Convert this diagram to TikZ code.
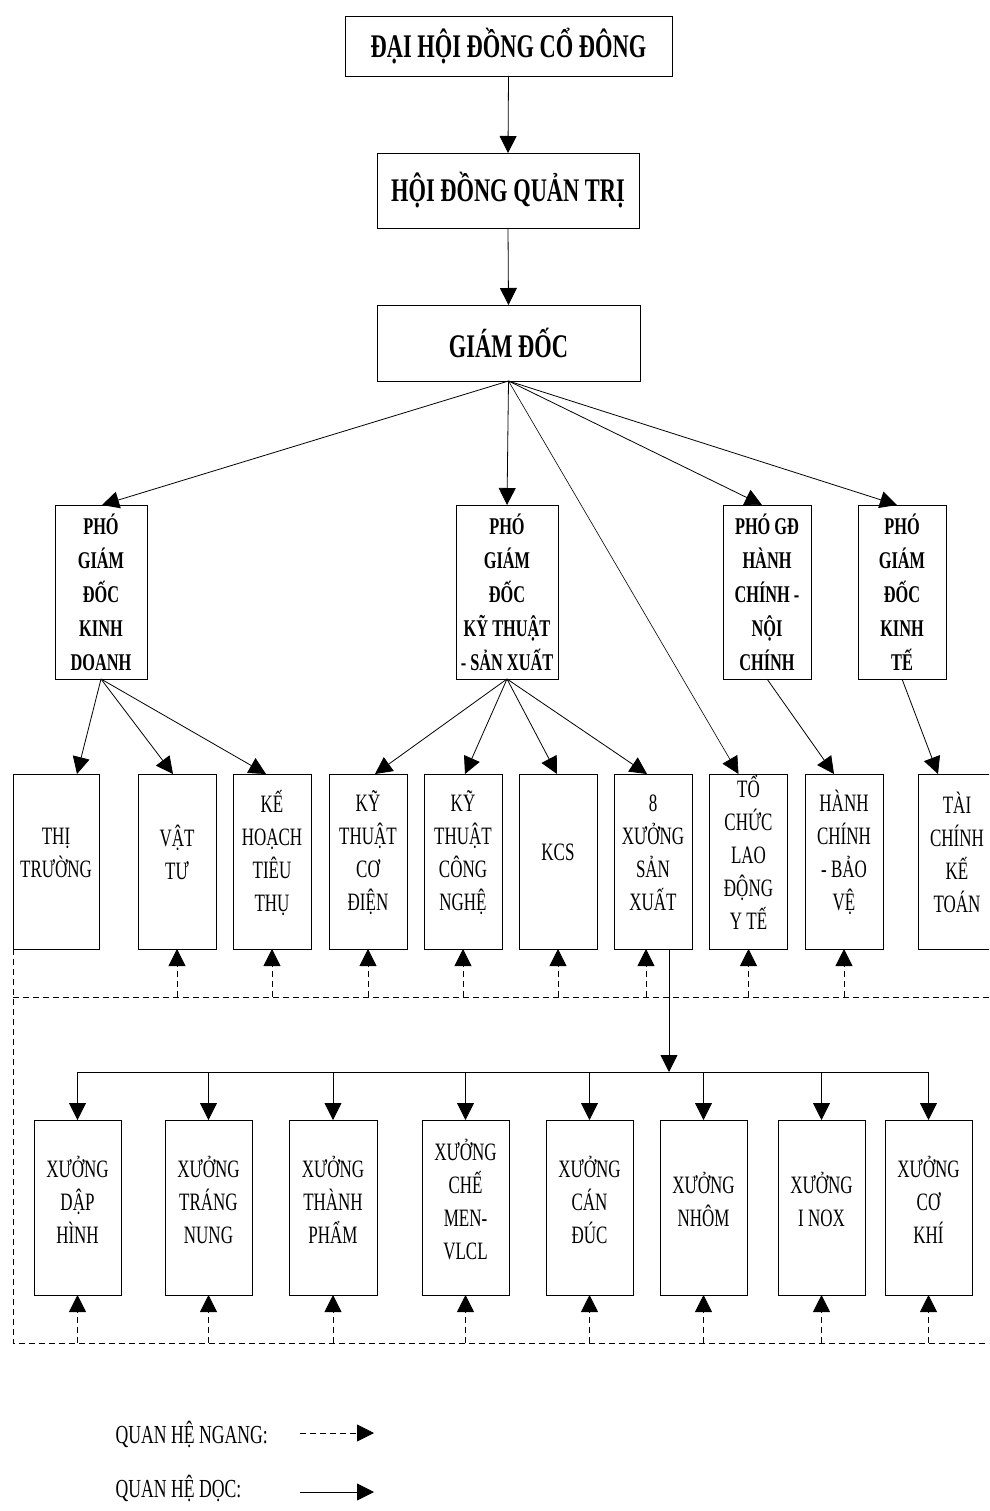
\documentclass[tikz,border=0pt]{standalone}
\usepackage{fontspec}
\setmainfont{Liberation Serif}[FakeStretch=0.68]
\usetikzlibrary{arrows.meta}
\begin{document}
\begin{tikzpicture}[x=1pt,y=-1pt,
  box/.style={draw, line width=0.9pt, inner sep=0pt, outer sep=0pt},
  head/.style={font=\bfseries\fontsize{33}{38}\selectfont},
  dep/.style={align=center, font=\bfseries\fontsize{24}{34}\selectfont},
  unit/.style={align=center, font=\fontsize{25}{33}\selectfont},
  legend/.style={anchor=base west, font=\fontsize{26}{30}\selectfont},
  tipend/.style={-{Triangle[length=17pt,width=17pt]}},
  link/.style={line width=0.8pt, tipend},
  thin/.style={line width=0.6pt, tipend},
  hline/.style={line width=0.8pt, dash pattern=on 6pt off 4pt},
  uplink/.style={hline, tipend},
  u4/.style={box, minimum width=78pt, minimum height=175pt},
  u5/.style={box, minimum width=87pt, minimum height=175pt},
  d3/.style={box, dep, minimum height=174pt},
]
\path[use as bounding box] (0,0) rectangle (989,1511);
\clip (0,0) rectangle (989,1511);

% top of the hierarchy
\node[box, head, minimum width=327pt, minimum height=60pt] (dh) at (508.5,46) {ĐẠI HỘI ĐỒNG CỔ ĐÔNG};
\node[box, head, minimum width=262pt, minimum height=75pt] (hd) at (508,190.5) {HỘI ĐỒNG QUẢN TRỊ};
\node[box, head, minimum width=263pt, minimum height=76pt] (gd) at (508.5,343) {GIÁM ĐỐC};

% deputy directors
\node[d3, minimum width=92pt] (pkd) at (101,592) {PHÓ\\GIÁM\\ĐỐC\\KINH\\DOANH};
\node[d3, minimum width=102pt] (pkt) at (507,592) {PHÓ\\GIÁM\\ĐỐC\\KỸ THUẬT\\- SẢN XUẤT};
\node[d3, minimum width=88pt] (phc) at (767,592) {PHÓ GĐ\\HÀNH\\CHÍNH -\\NỘI\\CHÍNH};
\node[d3, minimum width=88pt] (pkte) at (902,592) {PHÓ\\GIÁM\\ĐỐC\\KINH\\TẾ};

% departments
\node[u4, minimum width=86pt] (tt) at (56,861.5) {};
\node[u4] (vt) at (177,861.5) {};
\node[u4] (kh) at (272,861.5) {};
\node[u4] (kd) at (368,861.5) {};
\node[u4] (kc) at (463,861.5) {};
\node[u4] (kcs) at (558,861.5) {};
\node[u4] (xsx) at (653,861.5) {};
\node[u4] (tc) at (748.5,861.5) {};
\node[u4] (hc) at (844,861.5) {};
\node[u4] (tck) at (957,861.5) {};

\node[unit] at ([yshift=9pt]tt.center) {THỊ\\TRƯỜNG};
\node[unit] at ([yshift=9pt]vt.center) {VẬT\\TƯ};
\node[unit] at ([yshift=9pt]kh.center) {KẾ\\HOẠCH\\TIÊU\\THỤ};
\node[unit] at ([yshift=9pt]kd.center) {KỸ\\THUẬT\\CƠ\\ĐIỆN};
\node[unit] at ([yshift=9pt]kc.center) {KỸ\\THUẬT\\CÔNG\\NGHỆ};
\node[unit] at ([yshift=9pt]kcs.center) {KCS};
\node[unit] at ([yshift=9pt]xsx.center) {8\\XƯỞNG\\SẢN\\XUẤT};
\node[unit] at ([yshift=9pt]tc.center) {TỔ\\CHỨC\\LAO\\ĐỘNG\\Y TẾ};
\node[unit] at ([yshift=9pt]hc.center) {HÀNH\\CHÍNH\\- BẢO\\VỆ};
\node[unit] at ([yshift=9pt]tck.center) {TÀI\\CHÍNH\\KẾ\\TOÁN};

% workshops
\node[u5] (x1) at (77.5,1207.5) {};
\node[u5] (x2) at (208.5,1207.5) {};
\node[u5, minimum width=88pt] (x3) at (333,1207.5) {};
\node[u5] (x4) at (465.5,1207.5) {};
\node[u5] (x5) at (589.5,1207.5) {};
\node[u5] (x6) at (703.5,1207.5) {};
\node[u5] (x7) at (821.5,1207.5) {};
\node[u5] (x8) at (928.5,1207.5) {};

\node[unit] at ([yshift=8pt]x1.center) {XƯỞNG\\DẬP\\HÌNH};
\node[unit] at ([yshift=8pt]x2.center) {XƯỞNG\\TRÁNG\\NUNG};
\node[unit] at ([yshift=8pt]x3.center) {XƯỞNG\\THÀNH\\PHẨM};
\node[unit] at ([yshift=8pt]x4.center) {XƯỞNG\\CHẾ\\MEN-\\VLCL};
\node[unit] at ([yshift=8pt]x5.center) {XƯỞNG\\CÁN\\ĐÚC};
\node[unit] at ([yshift=8pt]x6.center) {XƯỞNG\\NHÔM};
\node[unit] at ([yshift=8pt]x7.center) {XƯỞNG\\I NOX};
\node[unit] at ([yshift=8pt]x8.center) {XƯỞNG\\CƠ\\KHÍ};

% vertical chain of command
\draw[link] (dh.south) -- (hd.north);
\draw[link] (hd.south) -- (gd.north);
\draw[link] (gd.south) -- ([xshift=1pt]pkd.north);
\draw[link] (gd.south) -- (pkt.north);
\draw[link] (gd.south) -- ([xshift=-5pt]phc.north);
\draw[link] (gd.south) -- ([xshift=-5pt]pkte.north);
\draw[thin] (gd.south) -- ([xshift=-10pt]tc.north);

\draw[link] (pkd.south) -- ([xshift=21pt]tt.north);
\draw[link] (pkd.south) -- ([xshift=-4pt]vt.north);
\draw[link] (pkd.south) -- ([xshift=-6pt]kh.north);
\draw[link] (pkt.south) -- ([xshift=7pt]kd.north);
\draw[link] (pkt.south) -- ([xshift=2pt]kc.north);
\draw[link] (pkt.south) -- ([xshift=-1pt]kcs.north);
\draw[link] (pkt.south) -- ([xshift=-6pt]xsx.north);
\draw[link] (phc.south) -- ([xshift=-10pt]hc.north);
\draw[link] (pkte.south) -- ([xshift=-19pt]tck.north);

% production workshops bus
\coordinate (bus) at (669,1072);
\draw[link] ([xshift=16pt]xsx.south) -- (bus);
\draw[line width=0.8pt] (x1.north |- bus) -- (x8.north |- bus);
\foreach \w in {x1,x2,x3,x4,x5,x6,x7,x8}
  \draw[link] (\w.north |- bus) -- (\w.north);

% horizontal relations
\coordinate (r1) at (989,997);
\coordinate (r2) at (989,1343);
\draw[hline] (tt.south west) -- (tt.south west |- r2) -- (r2);
\draw[hline] (tt.south west |- r1) -- (r1);
\foreach \d in {vt,kh,kd,kc,kcs,tc,hc}
  \draw[uplink] (\d.south |- r1) -- (\d.south);
\draw[uplink] ([xshift=-7pt]xsx.south |- r1) -- ([xshift=-7pt]xsx.south);
\foreach \w in {x1,x2,x3,x4,x5,x6,x7,x8}
  \draw[uplink] (\w.south |- r2) -- (\w.south);

% legend
\node[legend] (lg1) at (112,1443) {QUAN HỆ NGANG:};
\node[legend] (lg2) at (112,1497) {QUAN HỆ DỌC:};
\coordinate (la) at (300,1433);
\coordinate (lb) at (374,1433);
\coordinate (lc) at (300,1492);
\coordinate (ld) at (374,1492);
\draw[uplink] (la) -- (lb);
\draw[link] (lc) -- (ld);
\end{tikzpicture}
\end{document}
